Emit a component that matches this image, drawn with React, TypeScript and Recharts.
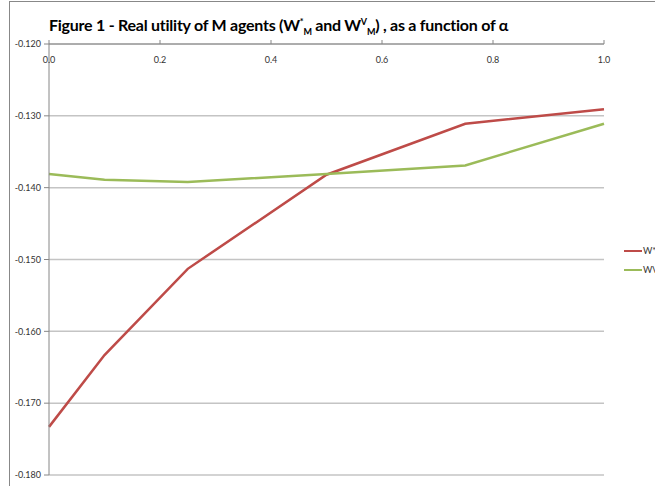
import React from 'react';
import { LineChart, Line, XAxis, YAxis, CartesianGrid, Legend } from 'recharts';

// alpha values and the two utility series
const alphas = [0, 0.1, 0.25, 0.5, 0.75, 1.0];
const wStar = [-0.1733, -0.1633, -0.1513, -0.1382, -0.1311, -0.1291];
const wV = [-0.1381, -0.1389, -0.1392, -0.1381, -0.1369, -0.1311];

const xTicks = [0, 0.2, 0.4, 0.6, 0.8, 1.0];
const yTicks = [-0.18, -0.17, -0.16, -0.15, -0.14, -0.13, -0.12];

const RED = '#BE4B48';
const GREEN = '#9BBB59';
const AXIS = '#868686';
const FONT = "Lato, 'Open Sans', sans-serif";

const data = alphas.map((a, i) => ({ alpha: a, wStar: wStar[i], wV: wV[i] }));

const XTick = (props: any) => {
  const { x, y, payload } = props;
  return (
    <text x={x} y={y + 23} textAnchor="middle" fontSize={9} fontFamily={FONT} fill="#333">
      {Number(payload.value).toFixed(1)}
    </text>
  );
};

const LegendBox = ({ payload }: any) => (
  <div style={{ fontFamily: FONT, fontSize: 9, color: '#333' }}>
    {(payload || []).map((p: any) => (
      <div key={p.dataKey} style={{ display: 'flex', alignItems: 'center', height: 19, whiteSpace: 'nowrap' }}>
        <span style={{ display: 'inline-block', width: 18, height: 2, background: p.color, marginRight: 1 }} />
        <span>{p.value}</span>
      </div>
    ))}
  </div>
);

export default function App() {
  return (
    <div style={{ position: 'absolute', left: 0, top: 0, width: 655, height: 486, overflow: 'hidden', background: '#fff' }}>
      <div style={{ position: 'absolute', left: 9, top: 1, width: 700, height: 600, borderLeft: '1px solid #888', borderTop: '1px solid #888' }} />
      <div
        style={{
          position: 'absolute', left: 49, top: 15, fontFamily: FONT, fontWeight: 'bold',
          fontSize: 16, letterSpacing: -0.25, color: '#000', whiteSpace: 'nowrap',
        }}
      >
        Figure 1 - Real utility of M agents (W<sup style={{ fontSize: 9 }}>*</sup><sub style={{ fontSize: 9 }}>M</sub> and W<sup style={{ fontSize: 9 }}>V</sup><sub style={{ fontSize: 9 }}>M</sub>) , as a function of α
      </div>
      <LineChart width={655} height={486} data={data} margin={{ top: 43, right: 51, bottom: 11, left: 0 }} style={{ position: 'absolute', left: 0, top: 0 }}>
        <CartesianGrid horizontal vertical={false} stroke="#c4c4c4" strokeWidth={1.5} />
        <XAxis
          dataKey="alpha"
          type="number"
          orientation="top"
          domain={[0, 1]}
          ticks={xTicks}
          height={1}
          tickSize={4}
          tickMargin={0}
          axisLine={{ stroke: AXIS }}
          tickLine={{ stroke: AXIS }}
          tick={XTick}
          interval={0}
        />
        <YAxis
          type="number"
          domain={[-0.18, -0.12]}
          ticks={yTicks}
          width={49}
          tickSize={5}
          tickMargin={3}
          interval={0}
          axisLine={{ stroke: AXIS }}
          tickLine={{ stroke: AXIS }}
          tick={{ fontSize: 9, fontFamily: FONT, fill: '#333' }}
          tickFormatter={(v: number) => v.toFixed(3)}
        />
        <Legend
          layout="horizontal"
          verticalAlign="middle"
          align="center"
          content={<LegendBox />}
          wrapperStyle={{ left: 624, top: 241, width: 60 }}
        />
        <Line name="W*M" dataKey="wStar" type="linear" stroke={RED} strokeWidth={2.5} dot={false} isAnimationActive={false} />
        <Line name="WVM" dataKey="wV" type="linear" stroke={GREEN} strokeWidth={2.5} dot={false} isAnimationActive={false} />
      </LineChart>
    </div>
  );
}
